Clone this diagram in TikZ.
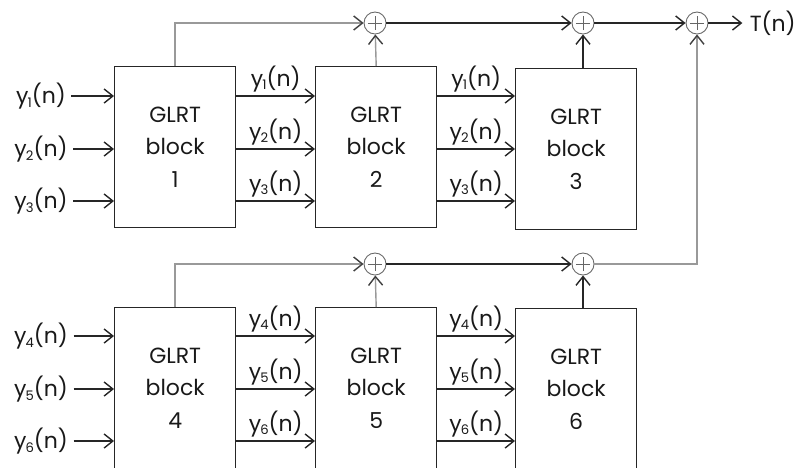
\documentclass[tikz,border=0pt]{standalone}
\usepackage{fontspec}
\setmainfont{Poppins}
\usetikzlibrary{arrows.meta}

\tikzstyle{wire}=[draw=black!85, line width=0.8pt, -{Straight Barb[length=5pt,width=8pt]}]
\tikzstyle{feed}=[draw=black!40, line width=0.8pt, -{Straight Barb[length=5pt,width=8pt,color=black!75]}]
\newcommand{\chan}[1]{y\kern-0.5pt\raisebox{-0.3ex}{\fontsize{7.5}{8}\selectfont #1}(n)}

\begin{document}
\begin{tikzpicture}[
	x=0.02cm, y=-0.02cm,
	font=\fontsize{12.5}{18.5}\selectfont, text=black!90,
	glrt/.style={draw=black!85, line width=0.8pt, minimum width=2.42cm, minimum height=3.22cm, anchor=north west, align=center, inner sep=0pt},
	sum/.style={circle, draw=black!60, line width=0.5pt, minimum size=0.44cm, inner sep=0pt,
		path picture={\draw[black!60, line width=0.4pt] ([xshift=-4pt]path picture bounding box.center) -- ++(8pt,0) ([yshift=-4pt]path picture bounding box.center) -- ++(0,8pt);}},
	lbl/.style={inner sep=3pt}
	]
	
	\clip (0,0) rectangle (800,467);
	
	% GLRT blocks, the lower row runs past the bottom edge
	\node[glrt] (b1) at (114,66) {GLRT\\block\\1};
	\node[glrt] (b2) at (315,66) {GLRT\\block\\2};
	\node[glrt] (b3) at (515,68) {GLRT\\block\\3};
	\node[glrt] (b4) at (114,307) {GLRT\\block\\4};
	\node[glrt] (b5) at (315,307) {GLRT\\block\\5};
	\node[glrt] (b6) at (515,308) {GLRT\\block\\6};
	
	% adders
	\node[sum] (s1) at (375,23) {};
	\node[sum] (s2) at (583,23) {};
	\node[sum] (s3) at (697,23) {};
	\node[sum] (s4) at (375,264) {};
	\node[sum] (s5) at (583,264) {};
	\node[anchor=east, inner sep=4pt] (t) at (803,23) {T(n)};
	
	% signals into and between the blocks
	\foreach \k/\y in {1/96,2/149,3/201} {
		\node[lbl] (i\k) at (41,\y) {\chan{\k}};
		\draw[wire] (i\k) -- (i\k -| b1.west);
		\draw[wire] (i\k -| b1.east) -- node[lbl, above, inner sep=2pt] {\chan{\k}} (i\k -| b2.west);
		\draw[wire] (i\k -| b2.east) -- node[lbl, above, inner sep=2pt] {\chan{\k}} (i\k -| b3.west);
	}
	\foreach \k/\y in {4/336,5/389,6/441} {
		\node[lbl] (i\k) at (41,\y) {\chan{\k}};
		\draw[wire] (i\k) -- (i\k -| b4.west);
		\draw[wire] (i\k -| b4.east) -- node[lbl, above, inner sep=2pt] {\chan{\k}} (i\k -| b5.west);
		\draw[wire] (i\k -| b5.east) -- node[lbl, above, inner sep=2pt] {\chan{\k}} (i\k -| b6.west);
	}
	
	% summing paths
	\draw[feed] (b1.north) |- (s1);
	\draw[feed] (b2.north) -- (s1);
	\draw[wire] (s1) -- (s2);
	\draw[wire] (b3.north -| s2) -- (s2);
	\draw[wire] (s2) -- (s3);
	\draw[wire] (s3) -- (t);
	\draw[feed] (b4.north) |- (s4);
	\draw[feed] (b5.north) -- (s4);
	\draw[wire] (s4) -- (s5);
	\draw[wire] (b6.north -| s5) -- (s5);
	\draw[feed] (s5) -| (s3);
	
\end{tikzpicture}
\end{document}
